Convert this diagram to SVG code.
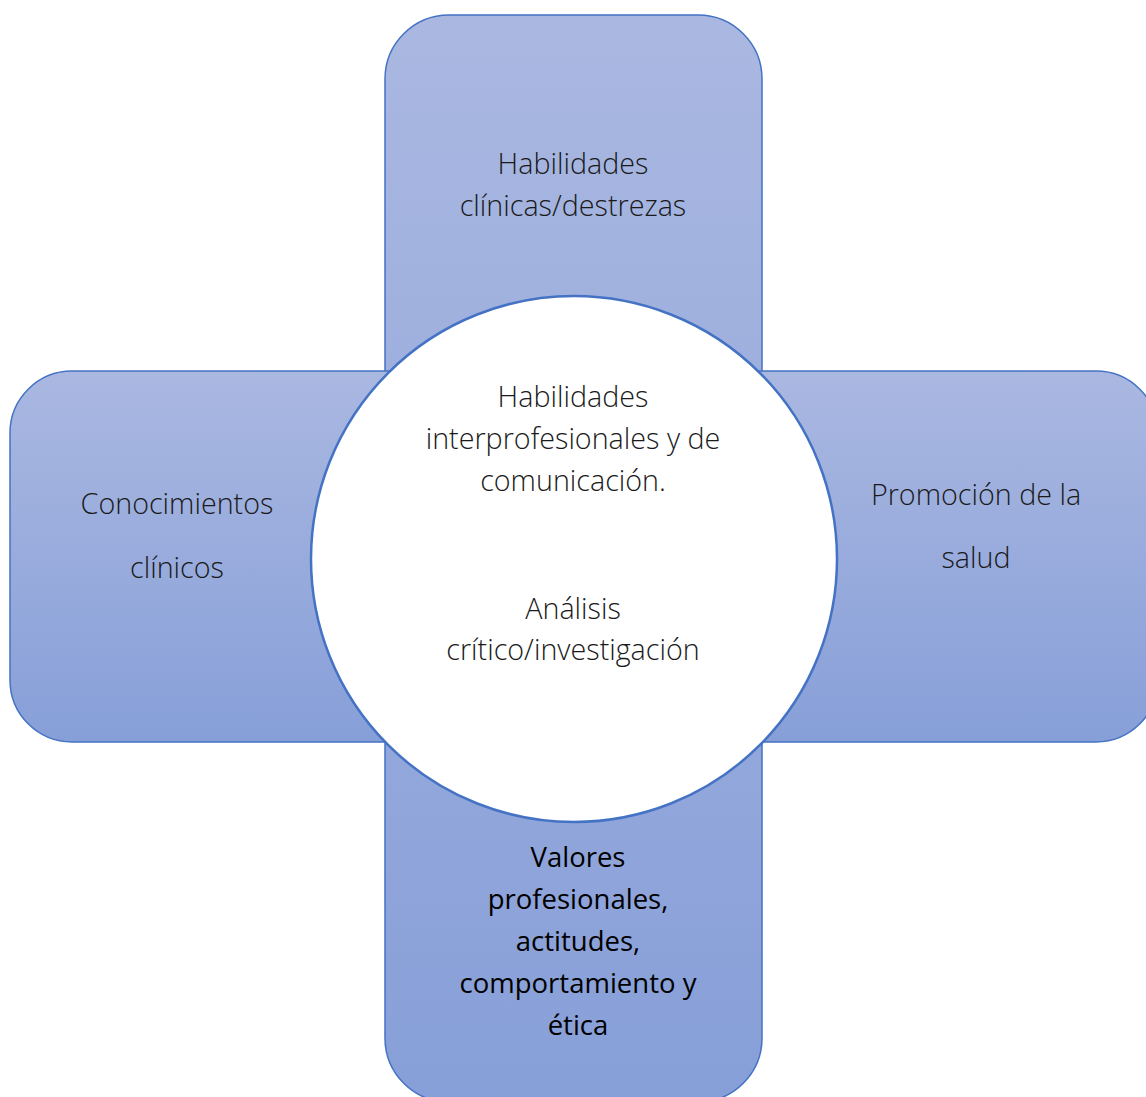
<svg xmlns="http://www.w3.org/2000/svg" width="1146" height="1097" viewBox="0 0 1146 1097">
<defs>
<linearGradient id="g" x1="0" y1="0" x2="0" y2="1">
<stop offset="0" stop-color="#AAB8E1"/>
<stop offset="1" stop-color="#879FD8"/>
</linearGradient>
<linearGradient id="gv" gradientUnits="userSpaceOnUse" x1="0" y1="15" x2="0" y2="1100">
<stop offset="0" stop-color="#AAB8E1"/>
<stop offset="1" stop-color="#879FD8"/>
</linearGradient>
<style>
.arm{fill:url(#g);stroke:#4472C4;stroke-width:1.5}
.vert{fill:url(#gv)}
.hub{fill:#FFFFFF;stroke:#4472C4;stroke-width:2.5}
text{font-family:"Open Sans","Noto Sans",sans-serif;font-size:28.7px;fill:#1a1a1a;text-anchor:middle;font-weight:300}
.dk{fill:#000000;font-weight:400;font-size:27.5px}
</style>
</defs>
<g id="arm-top">
<rect class="arm vert" x="385" y="15" width="377" height="727" rx="64" ry="64"/>
<text x="573" y="174">Habilidades</text>
<text x="573" y="216">clínicas/destrezas</text>
</g>
<g id="arm-bottom">
<rect class="arm vert" x="385" y="371" width="377" height="731" rx="64" ry="64"/>
<text class="dk" x="578" y="867">Valores</text>
<text class="dk" x="578" y="909">profesionales,</text>
<text class="dk" x="578" y="951">actitudes,</text>
<text class="dk" x="578" y="993">comportamiento y</text>
<text class="dk" x="578" y="1035">ética</text>
</g>
<g id="arm-left">
<rect class="arm" x="10" y="371" width="460" height="371" rx="62" ry="62"/>
<text x="177" y="514">Conocimientos</text>
<text x="177" y="578">clínicos</text>
</g>
<g id="arm-right">
<rect class="arm" x="690" y="371" width="468" height="371" rx="62" ry="62"/>
<text x="976" y="505">Promoción de la</text>
<text x="976" y="568">salud</text>
</g>
<g id="hub">
<circle class="hub" cx="574" cy="559" r="263"/>
<text x="573" y="407">Habilidades</text>
<text x="573" y="449">interprofesionales y de</text>
<text x="573" y="491">comunicación.</text>
<text x="573" y="619">Análisis</text>
<text x="573" y="660">crítico/investigación</text>
</g>
<g id="connectors"></g>
</svg>
